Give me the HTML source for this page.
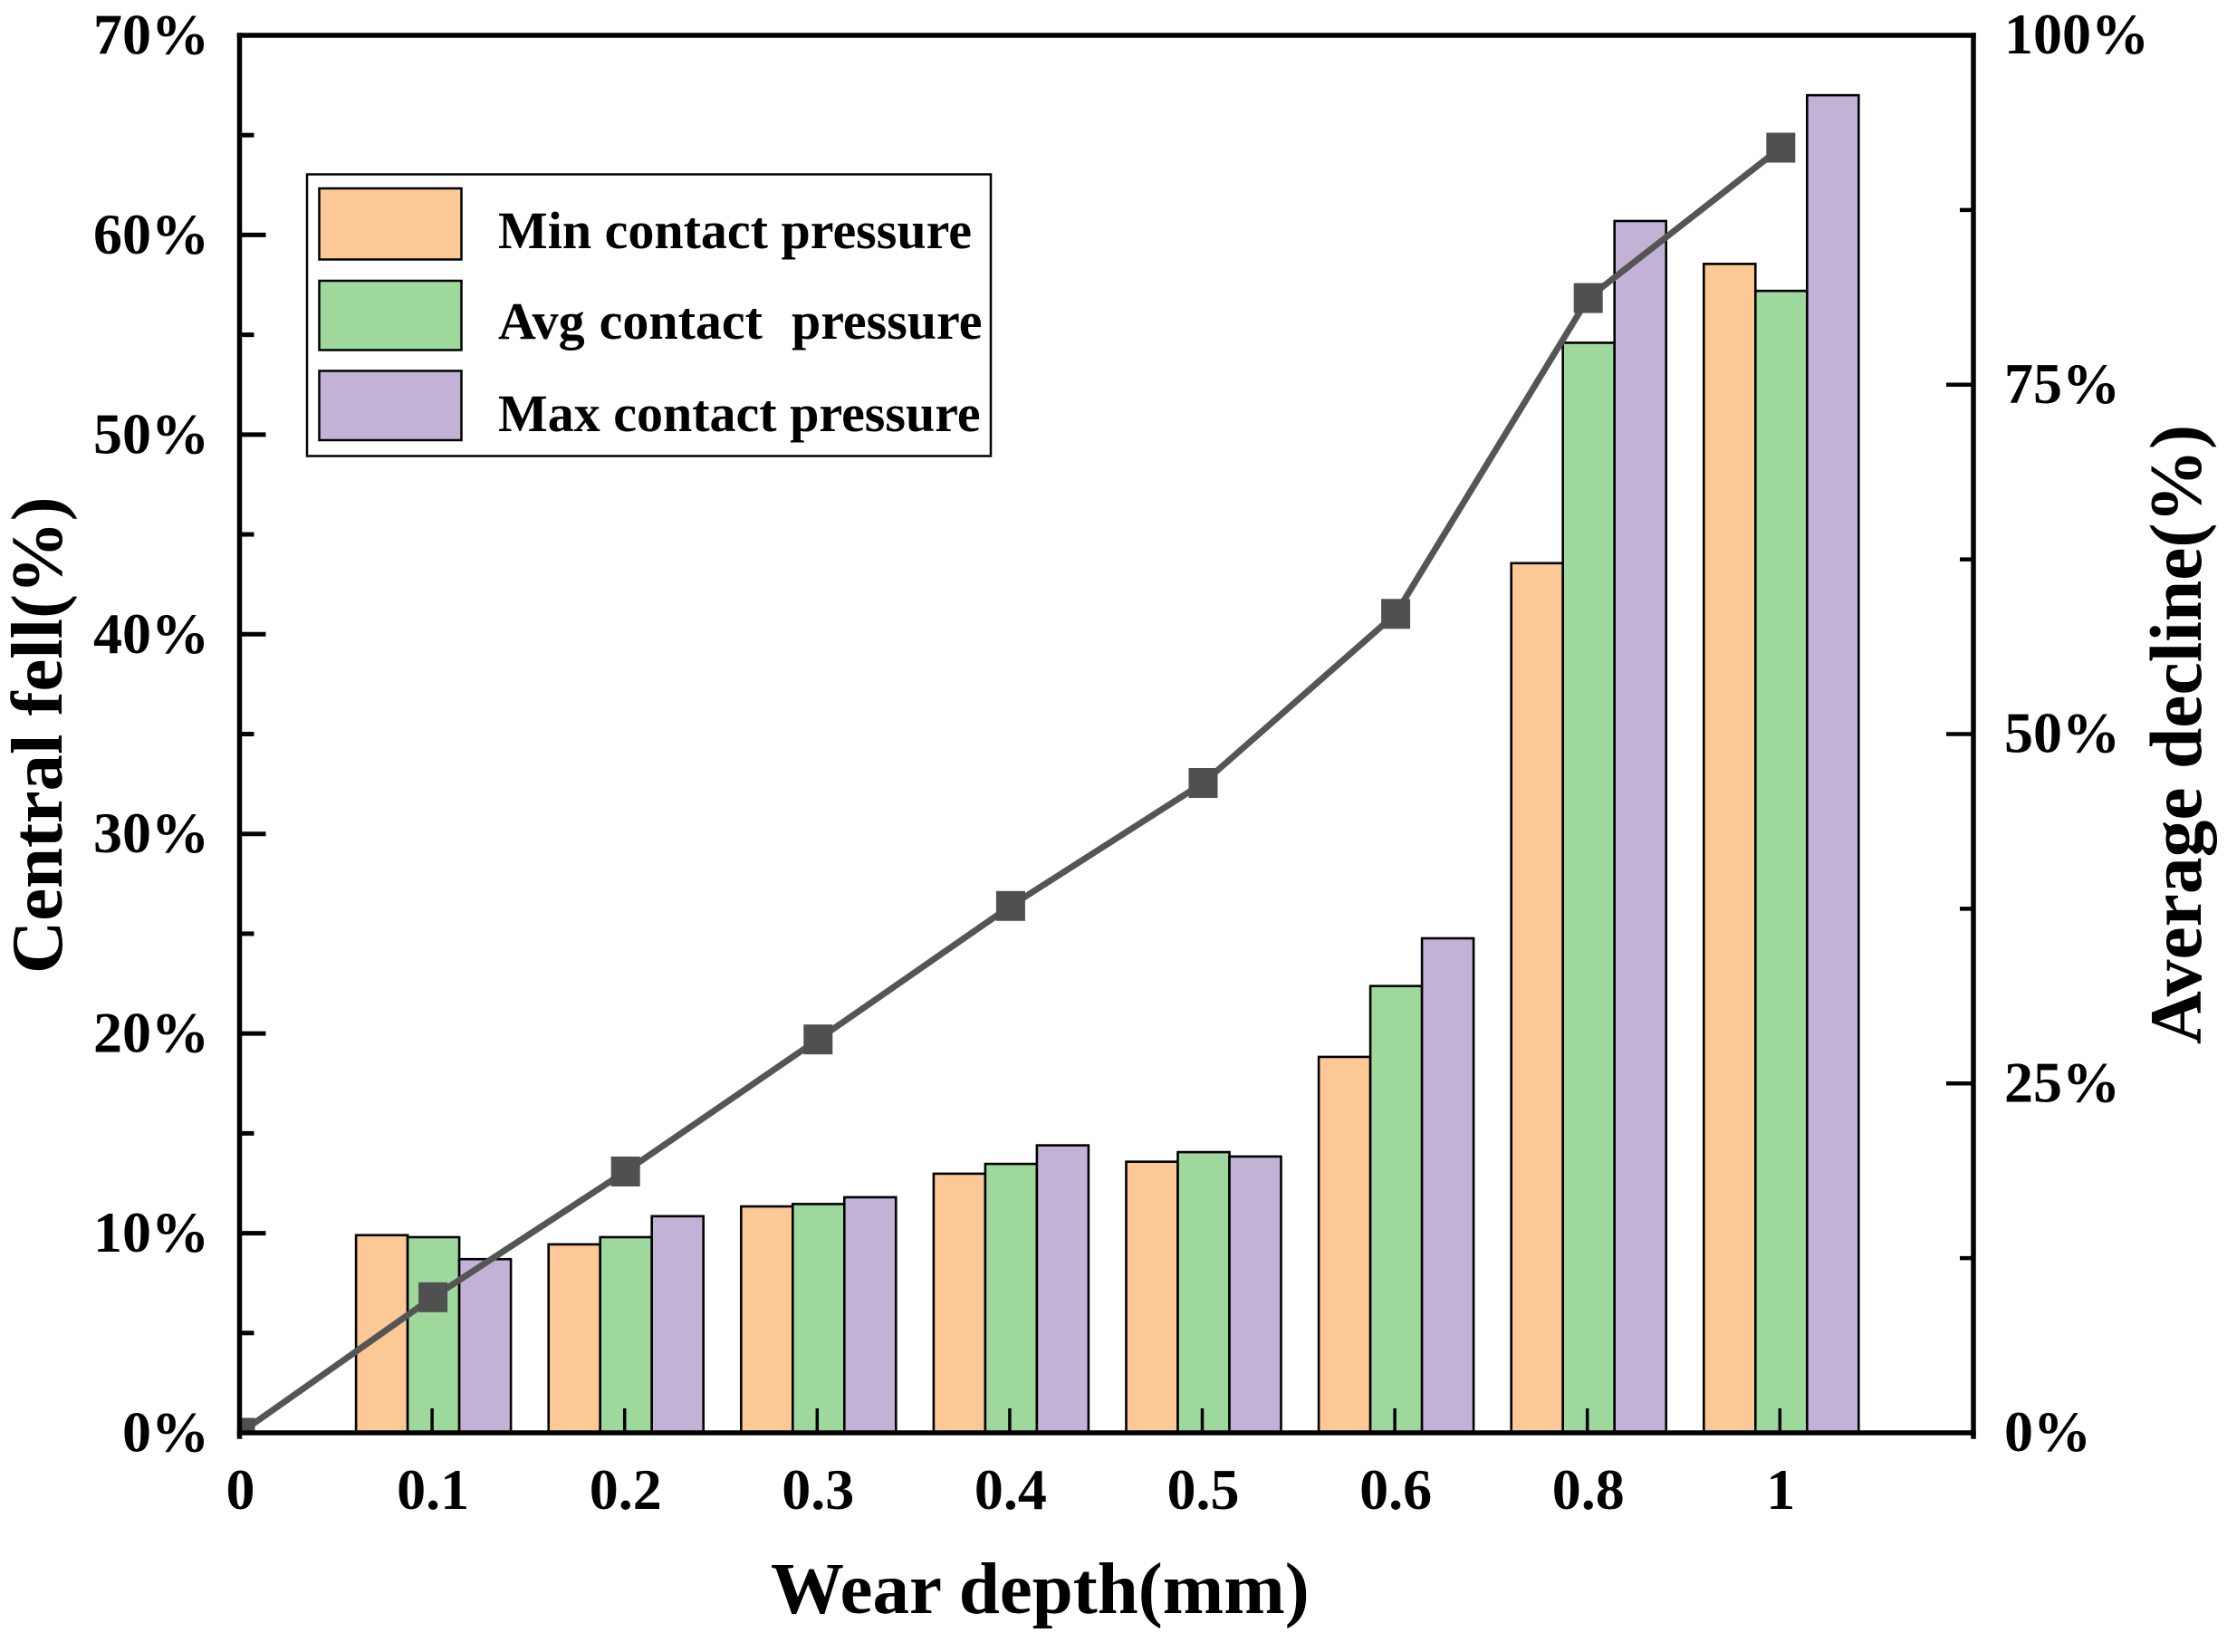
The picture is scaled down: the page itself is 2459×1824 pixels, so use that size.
<!DOCTYPE html>
<html lang="en">
<head>
<meta charset="utf-8">
<title>Contact pressure decline vs wear depth</title>
<style>
  html, body { margin: 0; padding: 0; background: #fff; }
  svg { display: block; }
  text { font-family: "Liberation Serif", serif; font-weight: bold; fill: #000; }
</style>
</head>
<body>
<svg id="chart" xmlns="http://www.w3.org/2000/svg" width="2459" height="1824" viewBox="0 0 2459 1824">
  <rect x="0" y="0" width="2459" height="1824" fill="#fff"/>
  <defs>
    <clipPath id="plot-clip"><rect x="264" y="39" width="1915" height="1543"/></clipPath>
  </defs>
  <g id="bars"></g>
  <g id="x-ticks"></g>
  <g id="line-layer" clip-path="url(#plot-clip)"></g>
  <g id="y-ticks"></g>
  <g id="frame" stroke="#000" stroke-width="5.5" stroke-linecap="square">
    <line x1="264.5" y1="39" x2="2179" y2="39"/>
    <line x1="264.5" y1="1582" x2="2179" y2="1582"/>
    <line x1="264.5" y1="39" x2="264.5" y2="1586"/>
    <line x1="2179" y1="39" x2="2179" y2="1586"/>
  </g>
  <g id="labels"></g>

  <text x="851" y="1781" font-size="81">Wear depth(mm)</text>
  <text transform="translate(68 1075) rotate(-90)" font-size="80.7">Central fell(%)</text>
  <text transform="translate(2430 1153) rotate(-90)" font-size="81.5">Average decline(%)</text>

  <g>
    <rect x="339" y="192.5" width="755" height="311" fill="#fff" stroke="#000" stroke-width="2.5"/>
    <rect x="352.5" y="208" width="157" height="78.5" fill="#FCC896" stroke="#000" stroke-width="2.5"/>
    <rect x="352.5" y="310" width="157" height="76.5" fill="#9FD89C" stroke="#000" stroke-width="2.5"/>
    <rect x="352.5" y="409.5" width="157" height="76.5" fill="#C2B2D6" stroke="#000" stroke-width="2.5"/>
    <text x="550" y="274" font-size="58">Min contact pressure</text>
    <text x="550" y="374" font-size="58" xml:space="preserve" style="white-space:pre;word-spacing:1.5px">Avg contact  pressure</text>
    <text x="550" y="476" font-size="58">Max contact pressure</text>
  </g>
</svg>
<script>
const categories = ["0.1", "0.2", "0.3", "0.4", "0.5", "0.6", "0.8", "1"];
const minPressure = [9.9, 9.44, 11.34, 12.98, 13.58, 18.83, 43.56, 58.55];
const avgPressure = [9.8, 9.8, 11.46, 13.47, 14.06, 22.38, 54.6, 57.2];
const maxPressure = [8.7, 10.85, 11.8, 14.4, 13.84, 24.77, 60.7, 67.0];
const lineCategories = ["0", "0.1", "0.2", "0.3", "0.4", "0.5", "0.6", "0.8", "1"];
const averageDecline = [0, 9.7, 18.7, 28.15, 37.7, 46.5, 58.6, 81.2, 91.96];
const leftTickLabels = ["0%", "10%", "20%", "30%", "40%", "50%", "60%", "70%"];
const leftTickValues = [0, 10, 20, 30, 40, 50, 60, 70];
const leftMinorValues = [5, 15, 25, 35, 45, 55, 65];
const rightTickLabels = ["0%", "25%", "50%", "75%", "100%"];
const rightTickValues = [0, 25, 50, 75, 100];
const rightMinorValues = [12.5, 37.5, 62.5, 87.5];

const NS = "http://www.w3.org/2000/svg";
const plot = { left: 264.5, right: 2179, top: 39, bottom: 1582, step: 212.6 };
const barWidth = 57;
const barOffset = -84;

function xPos(label) { return plot.left + plot.step * lineCategories.indexOf(label); }
function yLeft(v) { return plot.bottom - (v / 70) * (plot.bottom - plot.top); }
function yRight(v) { return plot.bottom - (v / 100) * (plot.bottom - plot.top); }

function make(tag, attrs, parent) {
  const e = document.createElementNS(NS, tag);
  for (const k in attrs) e.setAttribute(k, attrs[k]);
  parent.appendChild(e);
  return e;
}

const barsG = document.getElementById("bars");
const seriesDefs = [
  { key: "min", values: minPressure, fill: "#FCC896" },
  { key: "avg", values: avgPressure, fill: "#9FD89C" },
  { key: "max", values: maxPressure, fill: "#C2B2D6" }
];
seriesDefs.forEach(function (s, si) {
  s.values.forEach(function (v, i) {
    const x = xPos(categories[i]) + barOffset + si * barWidth;
    const y = yLeft(v);
    const el = make("rect", { x: x, y: y, width: barWidth, height: plot.bottom - y, fill: s.fill, stroke: "#000", "stroke-width": 2.6 }, barsG);
    
    
  });
});

const xTicksG = document.getElementById("x-ticks");
categories.forEach(function (c) {
  const x = xPos(c);
  const el = make("line", { x1: x, x2: x, y1: plot.bottom, y2: plot.bottom - 27, stroke: "#000", "stroke-width": 3.5 }, xTicksG);
  
  
});

const lineG = document.getElementById("line-layer");
const pts = averageDecline.map(function (v, i) { return [xPos(lineCategories[i]) + 1, yRight(v)]; });
const poly = make("polyline", { points: pts.map(function (p) { return p.join(","); }).join(" "), fill: "none", stroke: "#555", "stroke-width": 7 }, lineG);


pts.forEach(function (p, i) {
  const m = make("rect", { x: p[0] - 16, y: p[1] - 16.5, width: 32, height: 33, fill: "#505050" }, lineG);
  
  
});

const yTicksG = document.getElementById("y-ticks");
leftTickValues.forEach(function (v) {
  const y = yLeft(v);
  const el = make("line", { x1: plot.left, x2: plot.left + 29, y1: y, y2: y, stroke: "#000", "stroke-width": 5 }, yTicksG);
  
  
});
leftMinorValues.forEach(function (v) {
  const y = yLeft(v);
  const el = make("line", { x1: plot.left, x2: plot.left + 16, y1: y, y2: y, stroke: "#000", "stroke-width": 5 }, yTicksG);
  
  
});
rightTickValues.forEach(function (v) {
  const y = yRight(v);
  const el = make("line", { x1: plot.right, x2: plot.right - 30, y1: y, y2: y, stroke: "#000", "stroke-width": 4.5 }, yTicksG);
  
  
});
rightMinorValues.forEach(function (v) {
  const y = yRight(v);
  const el = make("line", { x1: plot.right, x2: plot.right - 15, y1: y, y2: y, stroke: "#000", "stroke-width": 4.5 }, yTicksG);
  
  
});

const labelsG = document.getElementById("labels");
leftTickLabels.forEach(function (t, i) {
  const el = make("text", { x: 231, y: yLeft(leftTickValues[i]) + 20.5, "font-size": 64, "text-anchor": "end" }, labelsG);
  el.textContent = t;
  
  
});
rightTickLabels.forEach(function (t, i) {
  const el = make("text", { x: 2213, y: yRight(rightTickValues[i]) + 20, "font-size": 64 }, labelsG);
  el.textContent = t;
  
  
});
lineCategories.forEach(function (c) {
  const el = make("text", { x: xPos(c) + 1, y: 1666, "font-size": 64, "text-anchor": "middle" }, labelsG);
  el.textContent = c;
  
  
});
</script>
</body>
</html>
